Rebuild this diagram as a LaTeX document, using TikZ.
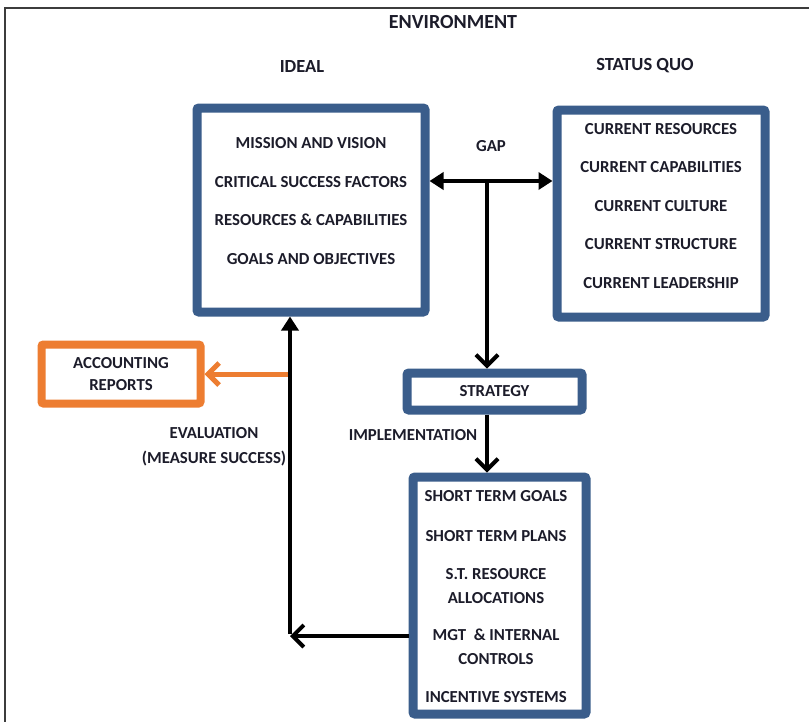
\documentclass[tikz,border=0pt]{standalone}
\usepackage{fontspec}
\setmainfont{Carlito}
\usetikzlibrary{arrows.meta,positioning}
\definecolor{panelblue}{HTML}{3A5D8B}
\definecolor{rust}{HTML}{ED7D31}
\definecolor{ink}{HTML}{1C1C2A}
\definecolor{rulegrey}{HTML}{3C3C3C}
\tikzset{
  panel/.style={draw=panelblue,line width=9pt,rounded corners=2pt,fill=white,inner sep=0pt},
  items/.style={font=\bfseries\fontsize{16.8}{#1}\selectfont,text=ink,align=center},
  items/.default=20,
  heading/.style={font=\bfseries\fontsize{18.5}{22}\selectfont,text=ink},
  fwd/.style={-{Straight Barb[length=11pt,width=22pt]},line width=4pt},
  solid/.style={-{Triangle[length=14pt,width=17pt]},line width=4pt},
  twoway/.style={{Triangle[length=14pt,width=17pt]}-{Triangle[length=14pt,width=17pt]},line width=4pt},
}

\begin{document}
\begin{tikzpicture}[x=1pt,y=-1pt]
  \useasboundingbox (0,0) rectangle (809,721);
  \clip (0,0) rectangle (809,721);
  \draw[rulegrey,line width=1.6pt] (5,8) rectangle (840,760);
  \node[heading,font=\bfseries\fontsize{20}{24}\selectfont] (env) at (453,22) {ENVIRONMENT};
  \node[heading] (idealhd) at (302,66) {IDEAL};
  \node[heading] (statushd) at (645,66) {STATUS QUO};
  % the two sides of the gap
  \node[panel,minimum width=228pt,minimum height=204pt] (ideal) at (311,210) {};
  \node[items=38.7] (idealtxt) at (311,201) {MISSION AND VISION\\ CRITICAL SUCCESS FACTORS\\ RESOURCES \& CAPABILITIES\\ GOALS AND OBJECTIVES};
  \node[panel,minimum width=208pt,minimum height=207pt] (status) at (661,213.5) {};
  \node[items=38.5] (statustxt) at (661,206) {CURRENT RESOURCES\\ CURRENT CAPABILITIES\\ CURRENT CULTURE\\ CURRENT STRUCTURE\\ CURRENT LEADERSHIP};
  \node[items] (gap) at (491,146) {GAP};
  % strategy and its implementation
  \node[panel,minimum width=175pt,minimum height=37pt,items] (strategy) at (494.5,391.5) {STRATEGY};
  \node[items] (impl) at (413,435) {IMPLEMENTATION};
  \node[panel,minimum width=173pt,minimum height=237pt] (tactics) at (499.5,595.5) {};
  \node[items=24] (tacticstxt) at (496,597) {SHORT TERM GOALS\\[16pt] SHORT TERM PLANS\\[14pt] S.T. RESOURCE\\ ALLOCATIONS\\[13pt] MGT \ \& INTERNAL\\ CONTROLS\\[14pt] INCENTIVE SYSTEMS};
  % evaluation loop
  \node[panel,draw=rust,line width=8pt,minimum width=159pt,minimum height=59pt,items=22] (acct) at (121,374) {ACCOUNTING\\ REPORTS};
  \node[items=25] (eval) at (214,447) {EVALUATION\\ (MEASURE SUCCESS)};
  \coordinate (split) at (487,181);
  \coordinate (corner) at (290,636);
  \coordinate (tap) at (290,374);
  \draw[twoway] (ideal.east |- split) -- (status.west |- split);
  \draw[fwd] ([yshift=-2pt]split) -- (split |- strategy.north);
  \draw[fwd] (strategy.south -| split) -- (tactics.north -| split);
  \draw[fwd,draw=rust,line width=5pt] (tap) -- (acct.east);
  \draw[fwd] (tactics.west |- corner) -- (corner);
  \draw[solid] ([yshift=2pt]corner) -- (corner |- ideal.south);
\end{tikzpicture}
\end{document}
